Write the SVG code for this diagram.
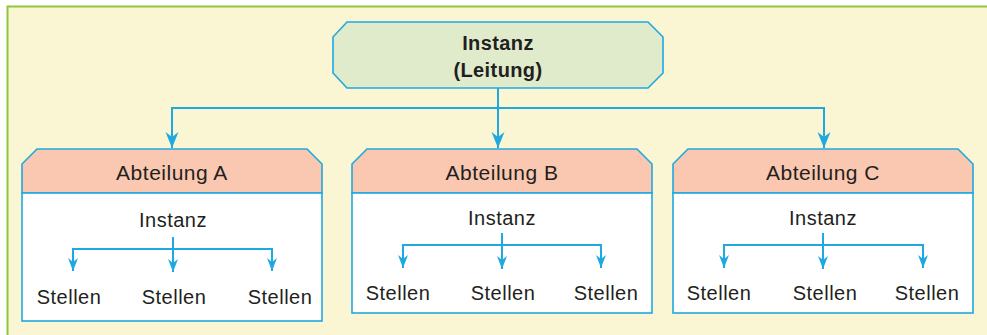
<svg xmlns="http://www.w3.org/2000/svg" width="987" height="335" viewBox="0 0 987 335">
<style>
text{font-family:"Liberation Sans",Arial,sans-serif;fill:#231f20;text-anchor:middle}
.t{font-size:20px;letter-spacing:0.5px}
.h{font-size:21px;letter-spacing:0.5px}
.b{font-size:20px;font-weight:bold;letter-spacing:0.4px}
.ln{fill:none;stroke:#1fa9e1;stroke-width:2}
.hd{fill:#fac8b0;stroke:#1fa9e1;stroke-width:1.6}
.bd{fill:#ffffff;stroke:#1fa9e1;stroke-width:1.6}
.top{fill:#dfebcb;stroke:#1fa9e1;stroke-width:1.6}
</style>
<defs>
<marker id="ar" viewBox="-1 -8 18 16" refX="16" refY="0" markerWidth="18" markerHeight="16" markerUnits="userSpaceOnUse" orient="auto">
<path d="M0,-6.5 L16,0 L0,6.5 L5,0 Z" fill="#1fa9e1"/>
</marker>
<marker id="as" viewBox="-1 -7 15 14" refX="13" refY="0" markerWidth="15" markerHeight="14" markerUnits="userSpaceOnUse" orient="auto">
<path d="M0,-5 L13,0 L0,5 L4,0 Z" fill="#1fa9e1"/>
</marker>
</defs>
<rect x="7" y="6" width="980" height="329" fill="#faf5d3"/>
<path d="M7.5,335 V6.5 H987" fill="none" stroke="#8dc63f" stroke-width="2"/>

<g id="leitung">
<polygon class="top" points="347,22 648,22 663,37 663,73 648,88 347,88 333,73 333,37"/>
<text class="b" x="498" y="50">Instanz</text>
<text class="b" x="498" y="77">(Leitung)</text>
</g>

<g id="connectors">
<path class="ln" d="M498,88 V148" marker-end="url(#ar)"/>
<path class="ln" d="M498,108 H172 V148" marker-end="url(#ar)"/>
<path class="ln" d="M498,108 H824 V148" marker-end="url(#ar)"/>
</g>

<g id="abteilung-a">
<polygon class="hd" points="37,149 307,149 322,164 322,193 22,193 22,164"/>
<rect class="bd" x="22" y="193" width="300" height="128"/>
<text class="h" x="172" y="180">Abteilung A</text>
<text class="t" x="173" y="227">Instanz</text>
<path class="ln" d="M173,237 V272" marker-end="url(#as)"/>
<path class="ln" d="M173,249 H73 V271" marker-end="url(#as)"/>
<path class="ln" d="M173,249 H272 V271" marker-end="url(#as)"/>
<text class="t" x="69" y="304">Stellen</text>
<text class="t" x="174" y="304">Stellen</text>
<text class="t" x="280" y="304">Stellen</text>
</g>

<g id="abteilung-b">
<polygon class="hd" points="367,149 637,149 652,164 652,193 352,193 352,164"/>
<rect class="bd" x="352" y="193" width="300" height="120"/>
<text class="h" x="502" y="180">Abteilung B</text>
<text class="t" x="502" y="225">Instanz</text>
<path class="ln" d="M502,233 V269" marker-end="url(#as)"/>
<path class="ln" d="M502,245 H403 V268" marker-end="url(#as)"/>
<path class="ln" d="M502,245 H601 V268" marker-end="url(#as)"/>
<text class="t" x="398" y="300">Stellen</text>
<text class="t" x="503" y="300">Stellen</text>
<text class="t" x="606" y="300">Stellen</text>
</g>

<g id="abteilung-c">
<polygon class="hd" points="688,149 958,149 973,164 973,193 673,193 673,164"/>
<rect class="bd" x="673" y="193" width="300" height="120"/>
<text class="h" x="823" y="180">Abteilung C</text>
<text class="t" x="823" y="225">Instanz</text>
<path class="ln" d="M823,233 V269" marker-end="url(#as)"/>
<path class="ln" d="M823,245 H724 V268" marker-end="url(#as)"/>
<path class="ln" d="M823,245 H923 V268" marker-end="url(#as)"/>
<text class="t" x="719" y="300">Stellen</text>
<text class="t" x="825" y="300">Stellen</text>
<text class="t" x="927" y="300">Stellen</text>
</g>
</svg>
